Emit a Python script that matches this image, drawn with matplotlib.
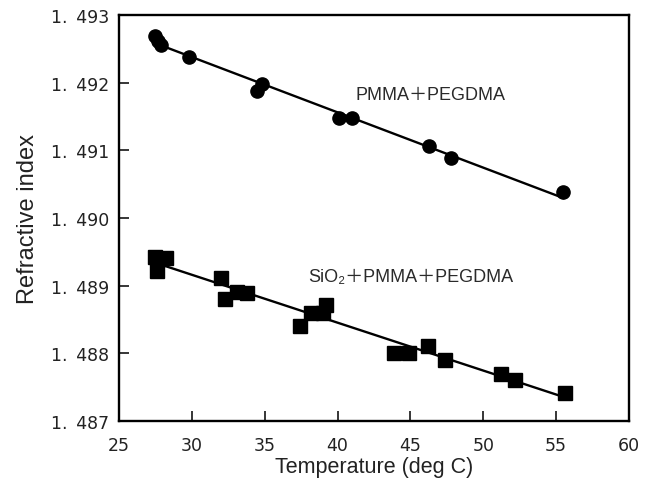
"""
Refractive index vs temperature for the two polymer films, with linear fits.
"""

import matplotlib

matplotlib.use("Agg")
import matplotlib.pyplot as plt
import numpy as np
from matplotlib.ticker import FuncFormatter

plt.rcParams["font.family"] = ["Liberation Sans", "Noto Sans CJK JP", "DejaVu Sans"]

# PMMA + PEGDMA (circles)
pmma_temp = [27.5, 27.7, 27.9, 29.8, 34.5, 34.8, 40.1, 41.0, 46.3, 47.8, 55.5]
pmma_n = [1.49269, 1.49262, 1.49255, 1.49238, 1.49188, 1.49198,
          1.49148, 1.49148, 1.49107, 1.49088, 1.49038]

# SiO2 + PMMA + PEGDMA (squares)
sio2_temp = [27.5, 27.7, 28.2, 27.6, 32.0, 32.3, 33.1, 33.8, 37.4, 38.2,
             39.0, 39.2, 43.9, 44.9, 46.2, 47.4, 51.2, 52.2, 55.6]
sio2_n = [1.48943, 1.48940, 1.48941, 1.48922, 1.48911, 1.48881, 1.48891,
          1.48889, 1.48840, 1.48859, 1.48860, 1.48871, 1.48800, 1.48800,
          1.48811, 1.48790, 1.48770, 1.48760, 1.48742]

x_ticks = [25, 30, 35, 40, 45, 50, 55, 60]
y_ticks = [1.487, 1.488, 1.489, 1.490, 1.491, 1.492, 1.493]


def fit_line(x, y):
    k, b = np.polyfit(x, y, 1)
    xs = np.array([min(x), max(x)])
    return xs, k * xs + b


def index_label(v, _):
    # wide gap after the decimal point, e.g. "1. 493"
    whole, frac = f"{v:.3f}".split(".")
    return f"{whole}.\u2002{frac}"


fig = plt.figure(figsize=(6.45, 4.81), dpi=100)
ax = fig.add_axes([0.1845, 0.1227, 0.7905, 0.844])

ax.plot(pmma_temp, pmma_n, "o", color="black", markersize=9.5)
ax.plot(*fit_line(pmma_temp, pmma_n), color="black", linewidth=1.7)

ax.plot(sio2_temp, sio2_n, "s", color="black", markersize=9.5)
ax.plot(*fit_line(sio2_temp, sio2_n), color="black", linewidth=1.7)

ax.text(41.25, 1.49182, "PMMA＋PEGDMA", fontsize=13, color="#2a2a2a", va="center")
ax.text(38.0, 1.48913, "SiO₂＋PMMA＋PEGDMA", fontsize=13, color="#2a2a2a", va="center")

ax.set_xlim(25, 60)
ax.set_ylim(1.487, 1.493)
ax.set_xticks(x_ticks)
ax.set_yticks(y_ticks)
ax.yaxis.set_major_formatter(FuncFormatter(index_label))
ax.tick_params(direction="in", length=7, width=1.1, labelsize=12.5)
ax.tick_params(axis="x", pad=11)
ax.tick_params(axis="y", pad=7)
for lbl in ax.get_xticklabels() + ax.get_yticklabels():
    lbl.set_family("DejaVu Sans")
    lbl.set_color("#222222")

for spine in ax.spines.values():
    spine.set_linewidth(1.7)

ax.set_xlabel("Temperature (deg C)", fontsize=15.5, labelpad=1, color="#222222")
ax.set_ylabel("Refractive index", fontsize=17, labelpad=9, color="#222222")

fig.savefig("out.png", dpi=100)
plt.close(fig)
